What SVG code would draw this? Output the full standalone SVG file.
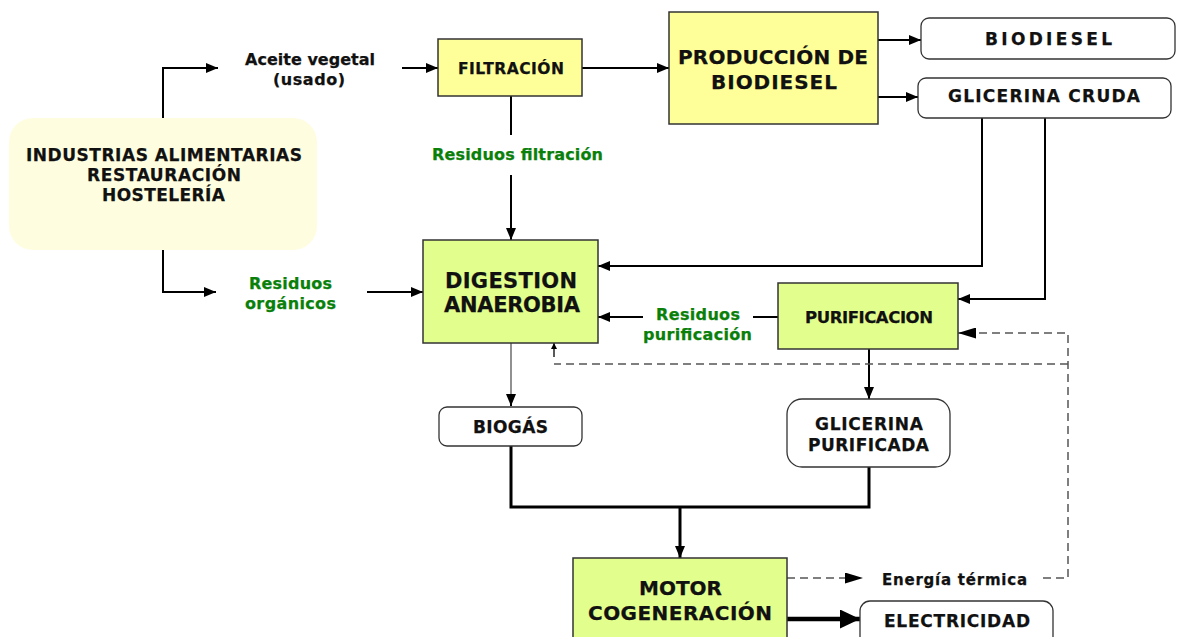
<svg xmlns="http://www.w3.org/2000/svg" width="1178" height="637" viewBox="0 0 1178 637">
<style>
  text { font-family: "DejaVu Sans", "Liberation Sans", sans-serif; font-weight: bold; fill: #111; text-anchor: middle; stroke: #111; stroke-width: 0.25; }
  .g { fill: #0a800a; stroke: #0a800a; }
  .n15 { font-size: 15px; }
  .n16 { font-size: 16px; }
  .u15 { font-size: 15.5px; }
  .u16 { font-size: 16.5px; }
  .u17 { font-size: 17px; }
  .n20 { font-size: 20px; }
  .n21 { font-size: 21px; }
  .yel { fill: #FFFF99; stroke: #333; stroke-width: 1.5; }
  .lime { fill: #E2FE8C; stroke: #333; stroke-width: 1.5; }
  .wht { fill: #fff; stroke: #333; stroke-width: 1.3; }
  .ln { fill: none; stroke: #000; stroke-width: 2; }
  .thk { fill: none; stroke: #000; stroke-width: 3; }
  .gry { fill: none; stroke: #555; stroke-width: 1.3; }
  .dsh { fill: none; stroke: #555; stroke-width: 1.5; stroke-dasharray: 8 5; }
</style>
<defs>
  <marker id="a" markerUnits="userSpaceOnUse" markerWidth="12" markerHeight="10" refX="12" refY="5" orient="auto">
    <path d="M0,0 L12,5 L0,10 z" fill="#000"/>
  </marker>
  <marker id="ad" markerUnits="userSpaceOnUse" markerWidth="18" markerHeight="11" refX="18" refY="5.5" orient="auto">
    <path d="M0,0 L18,5.5 L0,11 z" fill="#000"/>
  </marker>
  <marker id="ab" markerUnits="userSpaceOnUse" markerWidth="20" markerHeight="19" refX="20" refY="9.5" orient="auto">
    <path d="M0,0 L20,9.5 L0,19 z" fill="#000"/>
  </marker>
  <marker id="as" markerUnits="userSpaceOnUse" markerWidth="6" markerHeight="6" refX="6" refY="3" orient="auto">
    <path d="M0,0 L6,3 L0,6 z" fill="#000"/>
  </marker>
</defs>

<g id="connectors">
  <path class="ln" d="M163,118 V68 H218" marker-end="url(#a)"/>
  <path class="ln" d="M163,250 V292 H216" marker-end="url(#a)"/>
  <path class="ln" d="M402,68 H438" marker-end="url(#a)"/>
  <path class="ln" d="M367,292 H423" marker-end="url(#a)"/>
  <path class="ln" d="M582,68 H669" marker-end="url(#a)"/>
  <path class="ln" d="M511,96 V135"/>
  <path class="ln" d="M511,175 V240" marker-end="url(#a)"/>
  <path class="ln" d="M878,40 H921" marker-end="url(#a)"/>
  <path class="ln" d="M878,97 H918" marker-end="url(#a)"/>
  <path class="ln" d="M982,118 V266 H598" marker-end="url(#a)"/>
  <path class="ln" d="M1045,118 V299 H958" marker-end="url(#a)"/>
  <path class="ln" d="M778,317 H753"/>
  <path class="ln" d="M643,317 H598" marker-end="url(#a)"/>
  <path class="ln" d="M869,349 V399" marker-end="url(#a)"/>
  <path class="gry" d="M511,343 V406"/>
  <path class="ln" d="M511,394 V406" marker-end="url(#a)"/>
  <path class="thk" d="M511,446 V507 H869 V467"/>
  <path class="thk" d="M680,507 V558" marker-end="url(#a)"/>
  <path class="dsh" d="M787,578 H863" marker-end="url(#ad)"/>
  <path class="dsh" d="M1043,578 H1068 V333 H958" marker-end="url(#ad)"/>
  <path class="dsh" d="M1068,364 H554"/>
  <path fill="none" stroke="#000" stroke-width="1.3" d="M554,357 V343" marker-end="url(#as)"/>
  <path fill="none" stroke="#000" stroke-width="4.5" d="M787,619 H860" marker-end="url(#ab)"/>
</g>

<g id="industrias">
  <rect x="9" y="118" width="308" height="132" rx="24" fill="#FFFDE0"/>
  <text class="u17" x="164" y="161" textLength="276" lengthAdjust="spacing">INDUSTRIAS ALIMENTARIAS</text>
  <text class="u17" x="164" y="181" textLength="154" lengthAdjust="spacing">RESTAURACIÓN</text>
  <text class="u17" x="163.5" y="201" textLength="123" lengthAdjust="spacing">HOSTELERÍA</text>
</g>

<g id="aceite">
  <text class="n16" x="310" y="65" textLength="130" lengthAdjust="spacing">Aceite vegetal</text>
  <text class="n16" x="309" y="85" textLength="72" lengthAdjust="spacing">(usado)</text>
</g>

<g id="residuos-organicos">
  <text class="n16 g" x="290.5" y="289" textLength="83" lengthAdjust="spacing">Residuos</text>
  <text class="n16 g" x="290.5" y="309" textLength="91" lengthAdjust="spacing">orgánicos</text>
</g>

<g id="filtracion">
  <rect class="yel" x="438" y="39" width="144" height="57"/>
  <text class="u15" x="511" y="74" textLength="106" lengthAdjust="spacing">FILTRACIÓN</text>
</g>

<g id="residuos-filtracion">
  <text class="n16 g" x="517.5" y="160" textLength="171" lengthAdjust="spacing">Residuos filtración</text>
</g>

<g id="produccion">
  <rect class="yel" x="669" y="12" width="209" height="112"/>
  <text class="n20" x="773" y="64" textLength="190" lengthAdjust="spacing">PRODUCCIÓN DE</text>
  <text class="n20" x="774" y="89" textLength="126" lengthAdjust="spacing">BIODIESEL</text>
</g>

<g id="biodiesel">
  <rect class="wht" x="921" y="18" width="254" height="41" rx="8"/>
  <text class="u17" x="1048.5" y="45" textLength="127" lengthAdjust="spacing">BIODIESEL</text>
</g>

<g id="glicerina-cruda">
  <rect class="wht" x="918" y="78" width="253" height="40" rx="8"/>
  <text class="u17" x="1044" y="102" textLength="192" lengthAdjust="spacing">GLICERINA CRUDA</text>
</g>

<g id="digestion">
  <rect class="lime" x="423" y="240" width="175" height="103"/>
  <text class="n21" x="511" y="288" textLength="132" lengthAdjust="spacing">DIGESTION</text>
  <text class="n21" x="512" y="312" textLength="136" lengthAdjust="spacing">ANAEROBIA</text>
</g>

<g id="residuos-purificacion">
  <text class="n16 g" x="698" y="320" textLength="84" lengthAdjust="spacing">Residuos</text>
  <text class="n16 g" x="697.5" y="340" textLength="109" lengthAdjust="spacing">purificación</text>
</g>

<g id="purificacion">
  <rect class="lime" x="778" y="283" width="180" height="66"/>
  <text class="u16" x="869" y="323" textLength="128" lengthAdjust="spacing">PURIFICACION</text>
</g>

<g id="biogas">
  <rect class="wht" x="439" y="407" width="143" height="39" rx="8"/>
  <text class="u17" x="510.5" y="433" textLength="75" lengthAdjust="spacing">BIOGÁS</text>
</g>

<g id="glicerina-purificada">
  <rect class="wht" x="787" y="399" width="163" height="68" rx="15"/>
  <text class="u17" x="869" y="430" textLength="108" lengthAdjust="spacing">GLICERINA</text>
  <text class="u17" x="868.5" y="451" textLength="121" lengthAdjust="spacing">PURIFICADA</text>
</g>

<g id="motor">
  <rect class="lime" x="573" y="558" width="214" height="90"/>
  <text class="n20" x="680.5" y="595" textLength="83" lengthAdjust="spacing">MOTOR</text>
  <text class="n20" x="680" y="620" textLength="184" lengthAdjust="spacing">COGENERACIÓN</text>
</g>

<g id="energia-termica">
  <text class="n15" x="882" y="585" style="text-anchor:start" textLength="145" lengthAdjust="spacing">Energía térmica</text>
</g>

<g id="electricidad">
  <rect class="wht" x="860" y="601" width="193" height="50" rx="10"/>
  <text class="u17" x="957" y="627" textLength="146" lengthAdjust="spacing">ELECTRICIDAD</text>
</g>
</svg>
